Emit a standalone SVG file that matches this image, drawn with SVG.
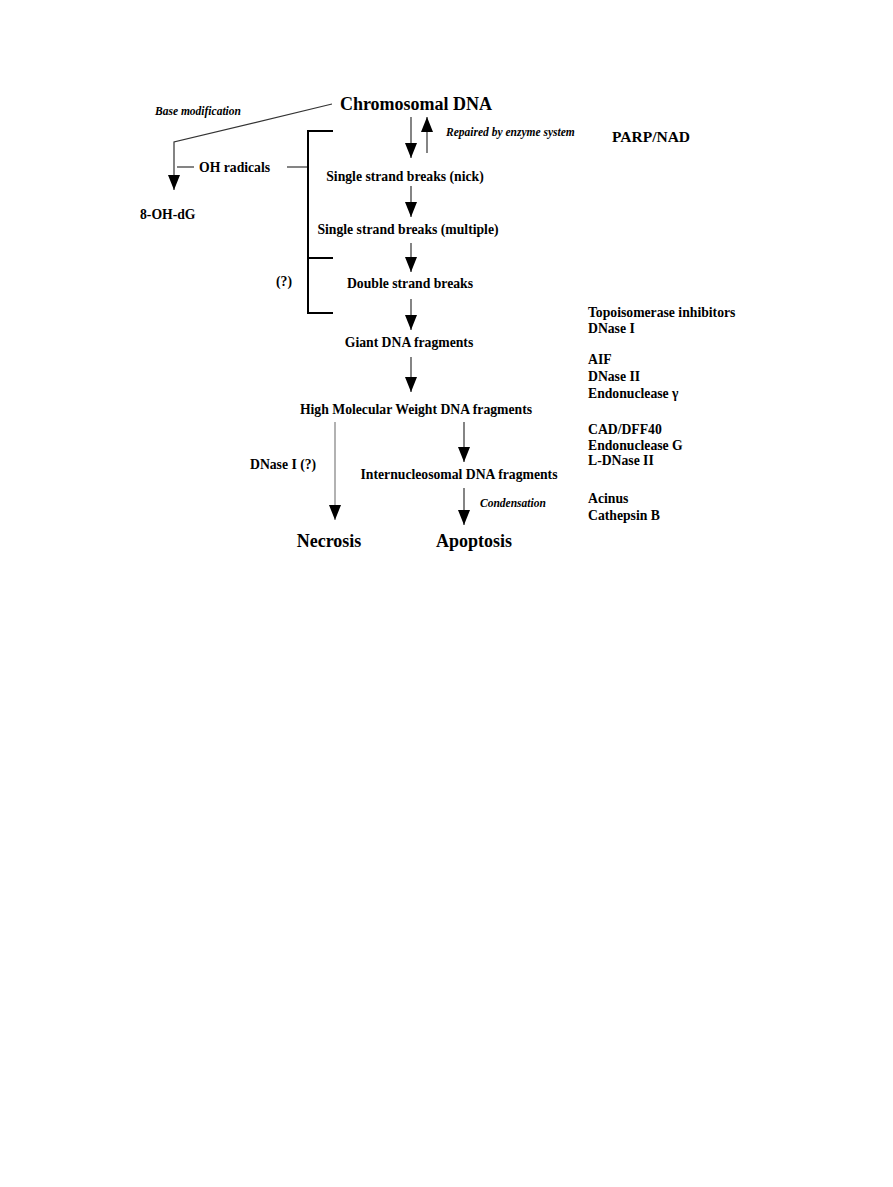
<svg xmlns="http://www.w3.org/2000/svg" width="893" height="1187" viewBox="0 0 893 1187">
<style>
text{font-family:"Liberation Serif","Times New Roman",serif;font-weight:bold;fill:#000}
.n{font-size:13.7px}
.p{font-size:15.5px}
.b{font-size:18px}
.i{font-size:11.5px;font-style:italic}
.c{stroke:#333;stroke-width:1.2;fill:none}
.g{stroke:#999;stroke-width:1.5;fill:none}
.k{stroke:#000;stroke-width:2;fill:none}
</style>
<defs>
<marker id="ah" viewBox="0 0 15 12" markerWidth="15" markerHeight="12" refX="15" refY="6" orient="auto" markerUnits="userSpaceOnUse">
<path d="M0,0 L15,6 L0,12 z" fill="#000"/>
</marker>
</defs>
<rect width="893" height="1187" fill="#fff"/>
<g id="connectors">
<polyline class="c" points="332,104 174,142 174,190" marker-end="url(#ah)"/>
<line class="c" x1="177" y1="167" x2="194" y2="167"/>
<line class="c" x1="287" y1="167" x2="307" y2="167"/>
<polyline class="k" points="333,131 308,131 308,313 333,313"/>
<line class="k" x1="308" y1="258" x2="333" y2="258"/>
<line class="c" x1="411" y1="117" x2="411" y2="158" marker-end="url(#ah)"/>
<line class="c" x1="427" y1="153" x2="427" y2="117" marker-end="url(#ah)"/>
<line class="c" x1="411" y1="186" x2="411" y2="217" marker-end="url(#ah)"/>
<line class="c" x1="411" y1="243" x2="411" y2="272" marker-end="url(#ah)"/>
<line class="c" x1="411" y1="299" x2="411" y2="330" marker-end="url(#ah)"/>
<line class="c" x1="411" y1="357" x2="411" y2="392" marker-end="url(#ah)"/>
<line class="g" x1="335" y1="422" x2="335" y2="520" marker-end="url(#ah)"/>
<line class="c" x1="464" y1="422" x2="464" y2="462" marker-end="url(#ah)"/>
<line class="c" x1="464" y1="488" x2="464" y2="525" marker-end="url(#ah)"/>
</g>
<g id="chromosomal"><text class="b" x="416" y="110" text-anchor="middle">Chromosomal DNA</text></g>
<g id="basemod"><text class="i" x="155" y="115">Base modification</text></g>
<g id="repaired"><text class="i" x="446" y="136">Repaired by enzyme system</text></g>
<g id="parp"><text class="p" x="612" y="142">PARP/NAD</text></g>
<g id="oh"><text class="n" x="199" y="172">OH radicals</text></g>
<g id="nick"><text class="n" x="405" y="181" text-anchor="middle">Single strand breaks (nick)</text></g>
<g id="ohdg"><text class="n" x="140" y="219">8-OH-dG</text></g>
<g id="multiple"><text class="n" x="408" y="234" text-anchor="middle">Single strand breaks (multiple)</text></g>
<g id="q"><text class="n" x="276" y="286">(?)</text></g>
<g id="double"><text class="n" x="410" y="288" text-anchor="middle">Double strand breaks</text></g>
<g id="topo"><text class="n" x="588" y="317">Topoisomerase inhibitors</text><text class="n" x="588" y="333">DNase I</text></g>
<g id="giant"><text class="n" x="409" y="347" text-anchor="middle">Giant DNA fragments</text></g>
<g id="aif"><text class="n" x="588" y="364">AIF</text><text class="n" x="588" y="381">DNase II</text><text class="n" x="588" y="398">Endonuclease γ</text></g>
<g id="hmw"><text class="n" x="416" y="414" text-anchor="middle">High Molecular Weight DNA fragments</text></g>
<g id="cad"><text class="n" x="588" y="434">CAD/DFF40</text><text class="n" x="588" y="450">Endonuclease G</text><text class="n" x="588" y="465">L-DNase II</text></g>
<g id="dnasei"><text class="n" x="250" y="469">DNase I (?)</text></g>
<g id="inter"><text class="n" x="459" y="479" text-anchor="middle">Internucleosomal DNA fragments</text></g>
<g id="cond"><text class="i" x="480" y="507">Condensation</text></g>
<g id="acinus"><text class="n" x="588" y="503">Acinus</text><text class="n" x="588" y="520">Cathepsin B</text></g>
<g id="necrosis"><text class="b" x="329" y="547" text-anchor="middle">Necrosis</text></g>
<g id="apoptosis"><text class="b" x="474" y="547" text-anchor="middle">Apoptosis</text></g>
</svg>
